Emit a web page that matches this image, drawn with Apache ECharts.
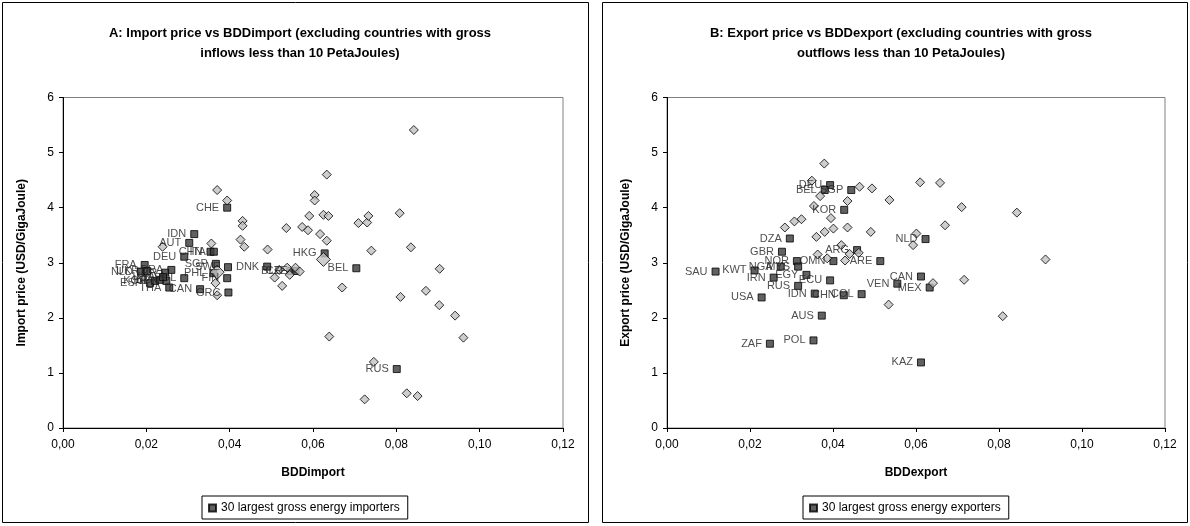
<!DOCTYPE html>
<html>
<head>
<meta charset="utf-8">
<script src="https://cdn.jsdelivr.net/npm/echarts@6/dist/echarts.min.js"></script>
<style>
  html, body { margin: 0; padding: 0; background: #fff; }
  #chart { width: 1190px; height: 526px; }
</style>
</head>
<body>
<div id="chart"></div>
<script>
// panel A: 30 largest gross energy importers
const impCodes = ["CHE","IDN","AUT","CHN","ITA","DEU","FRA","NLD","UKR","BRA","TUR","ESP","KOR","IND","JPN",
  "USA","CAN","SGP","SWE","PHL","FIN","GRC","DNK","BLR","CZE","HKG","BEL","RUS","POL","THA"];
const impX = [0.0394,0.0315,0.0303,0.0354,0.0362,0.0291,0.0196,0.0187,0.0202,0.0260,0.0245,0.0209,0.0221,0.0233,0.0248,
  0.0240,0.0329,0.0367,0.0396,0.0361,0.0394,0.0397,0.0490,0.0546,0.0558,0.0628,0.0704,0.0801,0.0291,0.0255];
const impY = [4.00,3.52,3.36,3.20,3.20,3.11,2.96,2.84,2.85,2.87,2.82,2.63,2.67,2.69,2.67,
  2.74,2.52,2.98,2.92,2.81,2.72,2.46,2.93,2.85,2.85,3.17,2.90,1.07,2.72,2.55];
// other importing countries
const impOtherX = [0.0370,0.0394,0.0431,0.0431,0.0426,0.0435,0.0239,0.0356,0.0491,0.0536,0.0574,0.0588,0.0591,0.0604,
  0.0604,0.0633,0.0625,0.0637,0.0617,0.0633,0.0709,0.0730,0.0733,0.0740,0.0670,0.0526,0.0508,0.0519,0.0538,0.0544,
  0.0558,0.0568,0.0366,0.0370,0.0903,0.0941,0.0961,0.0639,0.0746,0.0724,0.0825,0.0851,0.0842,0.0808,0.0835,0.0904,
  0.0871,0.0810];
const impOtherY = [4.32,4.13,3.76,3.67,3.42,3.29,3.29,3.35,3.24,3.63,3.65,3.59,3.85,4.23,
  4.13,4.60,3.87,3.85,3.52,3.40,3.72,3.73,3.85,3.22,2.55,2.58,2.73,2.87,2.91,2.78,
  2.91,2.84,2.63,2.41,2.23,2.04,1.64,1.66,1.20,0.52,0.63,0.58,5.41,3.90,3.28,2.89,
  2.49,2.38];
const impBigX = [0.0370,0.0625];
const impBigY = [2.83,3.06];

// panel B: 30 largest gross energy exporters
const expCodes = ["DEU","BEL","SGP","KOR","DZA","GBR","ARG","NOR","OMN","ARE","SAU","KWT","NGA","MYS","IRN",
  "EGY","ECU","RUS","IDN","CHN","COL","USA","AUS","POL","ZAF","KAZ","CAN","VEN","MEX","NLD"];
const expX = [0.0393,0.0380,0.0444,0.0427,0.0296,0.0277,0.0458,0.0313,0.0401,0.0514,0.0117,0.0211,0.0274,0.0316,0.0257,
  0.0336,0.0393,0.0316,0.0356,0.0426,0.0469,0.0228,0.0373,0.0353,0.0248,0.0612,0.0612,0.0555,0.0633,0.0623];
const expY = [4.41,4.32,4.32,3.96,3.44,3.20,3.23,3.03,3.03,3.03,2.84,2.86,2.93,2.93,2.73,
  2.78,2.68,2.58,2.44,2.41,2.43,2.37,2.04,1.59,1.53,1.19,2.75,2.62,2.55,3.43];
// other exporting countries
const expOtherX = [0.0379,0.0349,0.0369,0.0464,0.0494,0.0536,0.0435,0.0354,0.0395,0.0324,0.0307,0.0284,0.0401,0.0380,
  0.0360,0.0435,0.0491,0.0420,0.0440,0.0462,0.0363,0.0386,0.0429,0.0610,0.0601,0.0593,0.0658,0.0710,0.0843,0.0670,
  0.0912,0.0641,0.0716,0.0534,0.0809];
const expOtherY = [4.80,4.49,4.21,4.38,4.35,4.14,4.12,4.03,3.81,3.79,3.75,3.64,3.62,3.56,
  3.47,3.64,3.56,3.32,3.16,3.18,3.15,3.08,3.04,4.46,3.53,3.32,4.45,4.01,3.91,3.68,
  3.06,2.63,2.69,2.24,2.03];

const xTicks = [0, 0.12, 0.02];   // min, max, interval
const yTicks = [0, 6, 1];

const FONT = "Liberation Sans, Arial, sans-serif";

const zip = (xs, ys) => xs.map((x, i) => [x, ys[i]]);
const named = (codes, xs, ys) => codes.map((c, i) => ({ name: c, value: [xs[i], ys[i]] }));

const chart = echarts.init(document.getElementById("chart"));

function axesFor(idx, xName, yName) {
  const common = {
    gridIndex: idx,
    axisLine: { lineStyle: { color: "#000", width: 1 } },
    axisTick: { show: true, length: 4, lineStyle: { color: "#000" } },
    splitLine: { show: false },
    nameTextStyle: { fontFamily: FONT, fontWeight: "bold", fontSize: 12, color: "#000" },
    nameLocation: "middle"
  };
  return {
    x: Object.assign({}, common, {
      type: "value", min: xTicks[0], max: xTicks[1], interval: xTicks[2],
      name: xName, nameGap: 39,
      axisLabel: { fontFamily: FONT, fontSize: 12, color: "#000", margin: 11,
        formatter: v => v.toFixed(2).replace(".", ",") }
    }),
    y: Object.assign({}, common, {
      type: "value", min: yTicks[0], max: yTicks[1], interval: yTicks[2],
      name: yName, nameGap: 35,
      axisLabel: { fontFamily: FONT, fontSize: 12, color: "#000", margin: 9 }
    })
  };
}

const A = axesFor(0, "BDDimport", "Import price (USD/GigaJoule)");
const B = axesFor(1, "BDDexport", "Export price (USD/GigaJoule)");

const squareStyle = { color: "#3a3a3a", borderColor: "#000", borderWidth: 1 };
const diamondStyle = { color: "#c0c0c0", borderColor: "#000", borderWidth: 1 };
const labelStyle = { show: true, position: "left", distance: 4, formatter: "{b}",
  fontFamily: FONT, fontSize: 11, color: "#222" };

const legendBase = {
  top: 496, borderColor: "#000", borderWidth: 1, padding: [6, 8, 5, 6],
  itemWidth: 7, itemHeight: 7, itemGap: 4, icon: "rect",
  textStyle: { fontFamily: FONT, fontSize: 12, color: "#000" }
};

const option = {
  animation: false,
  backgroundColor: "#fff",
  graphic: [
    { type: "rect", shape: { x: 2.5, y: 2.5, width: 586, height: 520 },
      style: { fill: "none", stroke: "#000", lineWidth: 1 }, z: 100 },
    { type: "rect", shape: { x: 602.5, y: 2.5, width: 585, height: 520 },
      style: { fill: "none", stroke: "#000", lineWidth: 1 }, z: 100 }
  ],
  title: [
    { text: "A: Import price vs BDDimport (excluding countries with gross\ninflows less than 10 PetaJoules)",
      left: 295, top: 18, textAlign: "center",
      textStyle: { fontFamily: FONT, fontSize: 13, fontWeight: "bold", color: "#000", lineHeight: 20 } },
    { text: "B: Export price vs BDDexport (excluding countries with gross\noutflows less than 10 PetaJoules)",
      left: 896, top: 18, textAlign: "center",
      textStyle: { fontFamily: FONT, fontSize: 13, fontWeight: "bold", color: "#000", lineHeight: 20 } }
  ],
  legend: [
    Object.assign({ data: ["30 largest gross energy importers"], left: 202 }, legendBase),
    Object.assign({ data: ["30 largest gross energy exporters"], left: 803 }, legendBase)
  ],
  grid: [
    { left: 63, width: 500, top: 97.5, height: 330.5, show: true, borderColor: "#808080", borderWidth: 1,
      backgroundColor: "#fff" },
    { left: 667, width: 498, top: 97.5, height: 330.5, show: true, borderColor: "#808080", borderWidth: 1,
      backgroundColor: "#fff" }
  ],
  xAxis: [A.x, B.x],
  yAxis: [A.y, B.y],
  series: [
    { name: "30 largest gross energy importers", type: "scatter", xAxisIndex: 0, yAxisIndex: 0,
      symbol: "rect", symbolSize: 7, itemStyle: squareStyle, label: labelStyle,
      data: named(impCodes, impX, impY) },
    { name: "other importers", type: "scatter", xAxisIndex: 0, yAxisIndex: 0,
      symbol: "diamond", symbolSize: [9, 9], itemStyle: diamondStyle, data: zip(impOtherX, impOtherY) },
    { name: "import highlight", type: "scatter", xAxisIndex: 0, yAxisIndex: 0,
      symbol: "diamond", symbolSize: [14, 14], itemStyle: diamondStyle, data: zip(impBigX, impBigY) },
    { name: "30 largest gross energy exporters", type: "scatter", xAxisIndex: 1, yAxisIndex: 1,
      symbol: "rect", symbolSize: 7, itemStyle: squareStyle, label: labelStyle,
      data: named(expCodes, expX, expY) },
    { name: "other exporters", type: "scatter", xAxisIndex: 1, yAxisIndex: 1,
      symbol: "diamond", symbolSize: [9, 9], itemStyle: diamondStyle, data: zip(expOtherX, expOtherY) }
  ]
};

chart.setOption(option);
</script>
</body>
</html>
